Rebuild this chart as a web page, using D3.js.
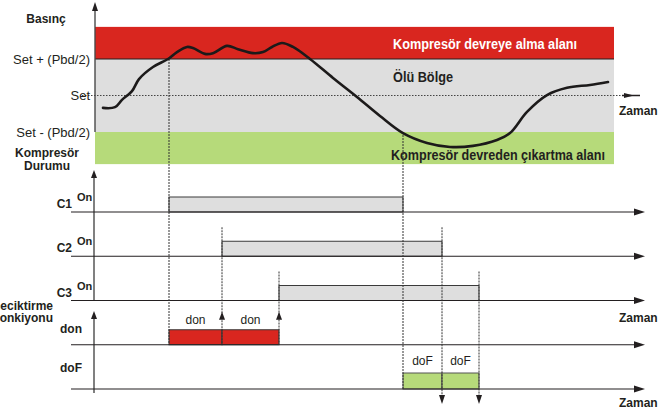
<!DOCTYPE html>
<html>
<head>
<meta charset="utf-8">
<script src="https://cdn.jsdelivr.net/npm/d3@7"></script>
<style>
  body { margin: 0; background: #fff; }
  text { font-family: "Liberation Sans", Arial, sans-serif; fill: #231f20; }
</style>
</head>
<body>
<div id="chart"></div>
<script>
// pressure curve (time units, pressure relative to Set in Pbd/2 units)
const curveT = [1.6, 4.0, 5.4, 7.4, 8.8, 11.6, 14.6, 16.4, 18.4, 19.6, 22.0, 23.6, 26.4, 28.6, 31.6, 33.6,
                35.4, 37.4, 39.6, 43.0, 47.6, 52.4, 57.0, 61.6, 66.4, 71.0, 75.6, 80.4, 83.0, 86.4, 90.4,
                94.4, 99.0, 102.6];
const curveP = [-0.34, -0.32, -0.12, 0.12, 0.45, 0.78, 1.0, 1.19, 1.33, 1.30, 1.14, 1.16, 1.36, 1.27, 1.16, 1.19,
                1.33, 1.44, 1.33, 1.0, 0.48, -0.04, -0.56, -1.03, -1.30, -1.41, -1.38, -1.22, -1.03, -0.45, 0.01,
                0.21, 0.29, 0.37];

const levelLabels = ["Set + (Pbd/2)", "Set", "Set - (Pbd/2)"];
const levelValues = [1, 0, -1];

const bandNames = ["Kompresör devreye alma alanı", "Ölü Bölge", "Kompresör devreden çıkartma alanı"];
const bandLow = [1, -1, -1.88];
const bandHigh = [1.88, 1, -1];

const rows = ["C1", "C2", "C3", "don", "doF"];
const compressors = ["C1", "C2", "C3"];
const onTimes = [14.8, 25.4, 36.8];
const offTimes = [61.6, 69.4, 76.8];

const donStart = [14.8, 25.4];
const donEnd = [25.4, 36.8];
const dofStart = [61.6, 69.4];
const dofEnd = [69.4, 76.8];

const width = 658, height = 412;
const ink = "#231f20";

const svg = d3.select("#chart").append("svg")
    .attr("width", width)
    .attr("height", height);

const x = d3.scaleLinear().domain([0, 110]).range([95, 645]);
const y = d3.scaleLinear().domain([-1, 1]).range([132, 59]);
const row = d3.scalePoint().domain(rows).range([212, 389]);

//small filled arrow head, tip at (tx, ty)
function arrowHead(tx, ty, dir, len, half) {
    let pts;
    if (dir === "right") pts = [[tx, ty], [tx - len, ty - half], [tx - len, ty + half]];
    if (dir === "up") pts = [[tx, ty], [tx - half, ty + len], [tx + half, ty + len]];
    if (dir === "down") pts = [[tx, ty], [tx - half, ty - len], [tx + half, ty - len]];
    svg.append("path")
        .attr("d", "M" + pts.map(p => p.join(",")).join("L") + "Z")
        .attr("fill", ink);
}

// ---- pressure panel ----
const bandColors = ["#d9261f", "#dedede", "#b6da7a"];
svg.append("g").selectAll("rect")
    .data(bandNames)
    .enter().append("rect")
    .attr("x", x(0))
    .attr("width", 614 - x(0))
    .attr("y", (d, i) => y(bandHigh[i]))
    .attr("height", (d, i) => y(bandLow[i]) - y(bandHigh[i]))
    .attr("fill", (d, i) => bandColors[i]);

svg.append("line")
    .attr("x1", x(0)).attr("x2", 614)
    .attr("y1", y(1)).attr("y2", y(1))
    .attr("stroke", ink).attr("stroke-width", 1.2);

// band titles
svg.append("text").attr("x", 393).attr("y", 49)
    .attr("font-size", 14).attr("font-weight", "bold")
    .attr("textLength", 184).attr("lengthAdjust", "spacingAndGlyphs")
    .style("fill", "#fff").text(bandNames[0]);
svg.append("text").attr("x", 393).attr("y", 82)
    .attr("font-size", 14).attr("font-weight", "bold")
    .attr("textLength", 60).attr("lengthAdjust", "spacingAndGlyphs")
    .text(bandNames[1]);
svg.append("text").attr("x", 391).attr("y", 160)
    .attr("font-size", 14).attr("font-weight", "bold")
    .attr("textLength", 214).attr("lengthAdjust", "spacingAndGlyphs")
    .text(bandNames[2]);

// set line (dotted) with arrow
svg.append("line")
    .attr("x1", 82).attr("x2", 624)
    .attr("y1", y(0)).attr("y2", y(0))
    .attr("stroke", "#444").attr("stroke-width", 1)
    .attr("stroke-dasharray", "1.5,1.5");
svg.append("line")
    .attr("x1", 622).attr("x2", 640)
    .attr("y1", y(0)).attr("y2", y(0))
    .attr("stroke", ink).attr("stroke-width", 1.5);
arrowHead(634, y(0), "right", 10, 2.5);

svg.append("text").attr("x", 619).attr("y", 115)
    .attr("font-size", 12).attr("font-weight", "bold").text("Zaman");

// level labels
svg.append("g").selectAll("text")
    .data(levelLabels)
    .enter().append("text")
    .attr("x", 90)
    .attr("y", (d, i) => y(levelValues[i]) + 4.5)
    .attr("text-anchor", "end")
    .attr("font-size", 13)
    .text(d => d);

svg.append("text").attr("x", 46).attr("y", 23)
    .attr("text-anchor", "middle").attr("font-size", 12).attr("font-weight", "bold")
    .text("Basınç");
svg.append("text").attr("x", 47).attr("y", 157)
    .attr("text-anchor", "middle").attr("font-size", 12).attr("font-weight", "bold")
    .text("Kompresör");
svg.append("text").attr("x", 47).attr("y", 170)
    .attr("text-anchor", "middle").attr("font-size", 12).attr("font-weight", "bold")
    .text("Durumu");

// vertical axes
svg.append("line").attr("x1", 95).attr("x2", 95).attr("y1", 8).attr("y2", y(-1))
    .attr("stroke", "#4a4a4a").attr("stroke-width", 1.4);
arrowHead(95, 2, "up", 9, 3);
svg.append("line").attr("x1", 94).attr("x2", 94).attr("y1", 176).attr("y2", row("C3"))
    .attr("stroke", "#4a4a4a").attr("stroke-width", 1.4);
arrowHead(94, 170, "up", 8, 3);
svg.append("line").attr("x1", 94).attr("x2", 94).attr("y1", 318).attr("y2", 393)
    .attr("stroke", "#4a4a4a").attr("stroke-width", 1.4);
arrowHead(94, 311, "up", 8, 3);

// ---- compressor rows ----
const bars = svg.append("g");
compressors.forEach((c, i) => {
    bars.append("rect")
        .attr("x", x(onTimes[i]))
        .attr("y", row(c) - 15)
        .attr("width", x(offTimes[i]) - x(onTimes[i]))
        .attr("height", 15)
        .attr("fill", "#dedede")
        .attr("stroke", "#3a3a3a").attr("stroke-width", 1);
});

// delay bars
donStart.forEach((s, i) => {
    bars.append("rect")
        .attr("x", x(s)).attr("y", row("don") - 15)
        .attr("width", x(donEnd[i]) - x(s)).attr("height", 15)
        .attr("fill", "#d9261f").attr("stroke", "#3a3a3a").attr("stroke-width", 1);
    bars.append("text")
        .attr("x", (x(s) + x(donEnd[i])) / 2).attr("y", row("don") - 21)
        .attr("text-anchor", "middle").attr("font-size", 12)
        .text("don");
});
dofStart.forEach((s, i) => {
    bars.append("rect")
        .attr("x", x(s)).attr("y", row("doF") - 16)
        .attr("width", x(dofEnd[i]) - x(s)).attr("height", 16)
        .attr("fill", "#b6da7a").attr("stroke", "#555").attr("stroke-width", 1);
    bars.append("text")
        .attr("x", (x(s) + x(dofEnd[i])) / 2).attr("y", row("doF") - 24)
        .attr("text-anchor", "middle").attr("font-size", 12)
        .text("doF");
});

// time lines
rows.forEach(r => {
    svg.append("line")
        .attr("x1", 71).attr("x2", 640)
        .attr("y1", row(r)).attr("y2", row(r))
        .attr("stroke", ink).attr("stroke-width", 1.2);
    arrowHead(645, row(r), "right", 11, 3.5);
});

svg.append("text").attr("x", 619).attr("y", 322)
    .attr("font-size", 12).attr("font-weight", "bold").text("Zaman");
svg.append("text").attr("x", 619).attr("y", 407)
    .attr("font-size", 12).attr("font-weight", "bold").text("Zaman");

// row labels
compressors.forEach(c => {
    svg.append("text").attr("x", 72).attr("y", row(c) - 4)
        .attr("text-anchor", "end").attr("font-size", 12).attr("font-weight", "bold").text(c);
    svg.append("text").attr("x", 77).attr("y", row(c) - 11)
        .attr("font-size", 11).attr("font-weight", "bold").text("On");
});
svg.append("text").attr("x", 60).attr("y", 333)
    .attr("font-size", 12).attr("font-weight", "bold").text("don");
svg.append("text").attr("x", 60).attr("y", 372)
    .attr("font-size", 12).attr("font-weight", "bold").text("doF");
svg.append("text").attr("x", 53).attr("y", 310)
    .attr("text-anchor", "end").attr("font-size", 12).attr("font-weight", "bold").text("Geciktirme");
svg.append("text").attr("x", 53).attr("y", 322)
    .attr("text-anchor", "end").attr("font-size", 12).attr("font-weight", "bold").text("Fonkiyonu");

// event guide lines (dotted)
function guide(t, y1, y2) {
    svg.append("line")
        .attr("x1", x(t)).attr("x2", x(t))
        .attr("y1", y1).attr("y2", y2)
        .attr("stroke", "#333").attr("stroke-width", 1)
        .attr("stroke-dasharray", "2,1");
}
guide(onTimes[0], y(1), row("don"));
guide(offTimes[0], y(-1), row("doF"));
compressors.forEach((c, i) => {
    if (i === 0) return;
    guide(onTimes[i], row(c) - 29, row("don"));
    arrowHead(x(onTimes[i]), row("don") - 33, "up", 8, 3);
    guide(offTimes[i], row(c) - 29, row("doF") + 10);
    arrowHead(x(offTimes[i]), row("doF") + 15, "down", 9, 3);
});

// pressure curve
const line = d3.line()
    .x((d, i) => x(curveT[i]))
    .y((d, i) => y(curveP[i]))
    .curve(d3.curveCatmullRom.alpha(0.5));
svg.append("path")
    .datum(curveT)
    .attr("d", line)
    .attr("fill", "none")
    .attr("stroke", "#1c1a1a")
    .attr("stroke-width", 2.6)
    .attr("stroke-linecap", "round");
</script>
</body>
</html>
